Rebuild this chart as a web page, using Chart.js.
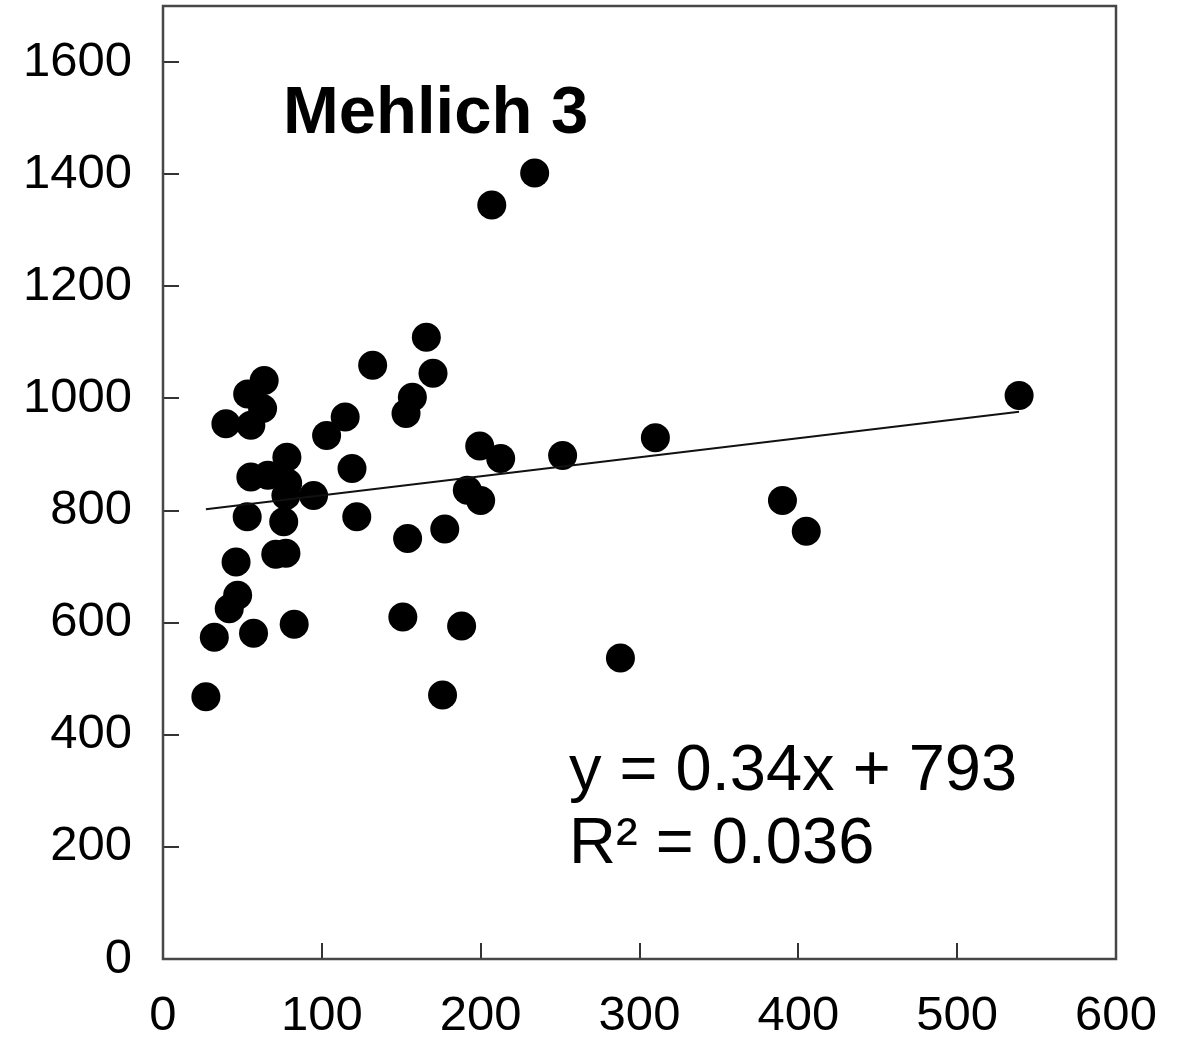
<!DOCTYPE html>
<html>
<head>
<meta charset="utf-8">
<script src="https://cdn.jsdelivr.net/npm/chart.js@4/dist/chart.umd.min.js"></script>
<style>
  html, body { margin: 0; padding: 0; background: #ffffff; }
  #wrap { width: 1186px; height: 1043px; position: relative; }
</style>
</head>
<body>
<div id="wrap"><canvas id="c" width="1186" height="1043"></canvas></div>
<script>
// ---- Data ----
const xValues = [234, 207, 165.8, 132, 170, 157, 153, 114.7, 103, 539,
                 310, 199.4, 212.6, 251.6, 119, 191.6, 200, 94.8, 122, 390,
                 405, 177.4, 154, 151, 188, 288, 176, 27, 32.3, 57,
                 82.6, 41.7, 47, 46, 71, 77.4, 76, 53, 55.3, 66,
                 78, 78.5, 77.4, 63.7, 53.3, 62.7, 39.6, 55.3];
const yValues = [1402, 1345, 1109, 1059, 1045, 1002, 973, 967, 934, 1005,
                 930, 915, 893, 898, 875, 836, 818, 827, 789, 818,
                 763, 767, 750, 610, 594, 537, 471, 468, 574, 581,
                 597, 625, 649, 708, 722, 724, 780, 789, 860, 863,
                 895, 849, 827, 1032, 1008, 982, 955, 952];
const xTickValues = [0, 100, 200, 300, 400, 500, 600];
const yTickValues = [0, 200, 400, 600, 800, 1000, 1200, 1400, 1600];
const trendSlope = 0.34;
const trendIntercept = 793;
const titleText = "Mehlich 3";
const equationLines = ["y = 0.34x + 793", "R\u00b2 = 0.036"];

// ---- Build datasets ----
const points = xValues.map((x, i) => ({ x: x, y: yValues[i] }));
const xMin = Math.min(...xValues), xMax = Math.max(...xValues);
const trend = [xMin, xMax].map(x => ({ x: x, y: trendSlope * x + trendIntercept }));

const FONT = '"Liberation Sans", Arial, sans-serif';

const framePlugin = {
  id: 'frameAndText',
  afterDraw(chart) {
    const ctx = chart.ctx;
    const a = chart.chartArea;
    const xs = chart.scales.x, ys = chart.scales.y;
    ctx.save();
    // inward tick marks
    ctx.strokeStyle = '#333333';
    ctx.lineWidth = 2;
    ctx.beginPath();
    xTickValues.forEach(v => {
      const px = Math.round(xs.getPixelForValue(v));
      ctx.moveTo(px, a.bottom);
      ctx.lineTo(px, a.bottom - 16);
    });
    yTickValues.forEach(v => {
      const py = Math.round(ys.getPixelForValue(v));
      ctx.moveTo(a.left, py);
      ctx.lineTo(a.left + 16, py);
    });
    ctx.stroke();
    // frame
    ctx.strokeStyle = '#474747';
    ctx.lineWidth = 2.5;
    ctx.strokeRect(a.left, a.top, a.right - a.left, a.bottom - a.top);
    // texts
    ctx.fillStyle = '#000000';
    ctx.textAlign = 'left';
    ctx.textBaseline = 'alphabetic';
    ctx.font = 'bold 67px ' + FONT;
    ctx.fillText(titleText, a.left + 120, a.top + 127);
    ctx.font = '65px ' + FONT;
    ctx.fillText(equationLines[0], a.left + 406, a.top + 784);
    ctx.fillText(equationLines[1], a.left + 406, a.top + 857);
    ctx.restore();
  }
};

new Chart(document.getElementById('c'), {
  type: 'scatter',
  data: {
    datasets: [
      {
        type: 'scatter',
        data: points,
        backgroundColor: '#000000',
        borderColor: '#000000',
        borderWidth: 0,
        pointRadius: 14.5,
        pointHoverRadius: 14.5,
        order: 2
      },
      {
        type: 'line',
        data: trend,
        borderColor: '#111111',
        borderWidth: 2,
        pointRadius: 0,
        fill: false,
        showLine: true,
        order: 1
      }
    ]
  },
  options: {
    responsive: false,
    animation: false,
    devicePixelRatio: 1,
    layout: { autoPadding: false, padding: { top: 6, right: 70, left: 0, bottom: 0 } },
    plugins: { legend: { display: false }, tooltip: { enabled: false }, title: { display: false } },
    scales: {
      x: {
        type: 'linear',
        min: 0, max: 600,
        afterFit(scale) { scale.height = 84; scale.paddingLeft = 0; scale.paddingRight = 0; },
        afterBuildTicks(scale) { scale.ticks = xTickValues.map(v => ({ value: v })); },
        grid: { display: false, drawTicks: false },
        border: { display: false },
        ticks: {
          color: '#000000',
          font: { family: FONT, size: 49 },
          padding: 28,
          maxRotation: 0,
          autoSkip: false,
          callback: v => String(v)
        }
      },
      y: {
        type: 'linear',
        min: 0, max: 1700,
        afterFit(scale) { scale.width = 163; scale.paddingTop = 0; scale.paddingBottom = 0; },
        afterBuildTicks(scale) { scale.ticks = yTickValues.map(v => ({ value: v })); },
        grid: { display: false, drawTicks: false },
        border: { display: false },
        ticks: {
          color: '#000000',
          font: { family: FONT, size: 49 },
          padding: 31,
          autoSkip: false,
          callback: v => String(v)
        }
      }
    }
  },
  plugins: [framePlugin]
});
</script>
</body>
</html>
